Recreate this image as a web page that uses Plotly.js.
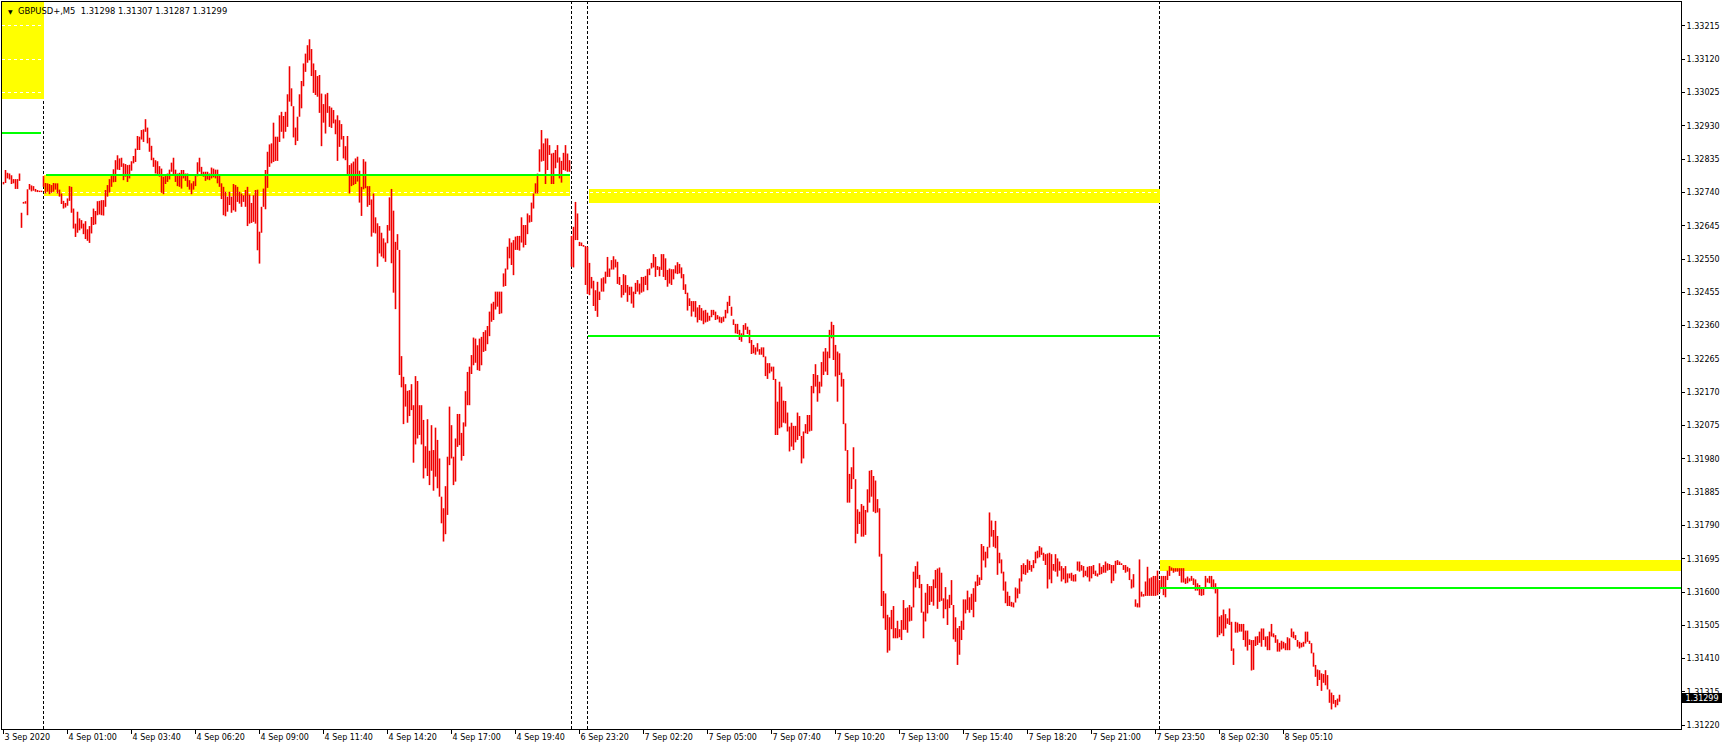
<!DOCTYPE html>
<html>
<head>
<meta charset="utf-8">
<script src="https://cdn.plot.ly/plotly-3.0.1.min.js"></script>
<style>
html,body{margin:0;padding:0;background:#fff;}
#chart{width:1727px;height:750px;}
#chart .shapelayer path, #chart .layer-between path{shape-rendering:crispEdges;}
</style>
</head>
<body>
<div id="chart"></div>
<script>
// ---- data: GBPUSD+ M5 bars (index = bar number), high / low prices ----
const barHigh = [
1.32770,1.32804,1.32796,1.32794,1.32789,1.32778,1.32778,1.32778,1.32794,1.32682,
1.32713,1.32715,1.32749,1.32764,1.32760,1.32758,1.32750,1.32747,1.32745,1.32745,
1.32787,1.32767,1.32766,1.32764,1.32761,1.32767,1.32766,1.32766,1.32748,1.32737,
1.32716,1.32710,1.32723,1.32758,1.32756,1.32694,1.32651,1.32685,1.32666,1.32661,
1.32651,1.32658,1.32635,1.32644,1.32670,1.32694,1.32687,1.32715,1.32716,1.32718,
1.32718,1.32747,1.32761,1.32778,1.32792,1.32806,1.32832,1.32846,1.32837,1.32839,
1.32823,1.32821,1.32818,1.32819,1.32829,1.32844,1.32865,1.32901,1.32899,1.32918,
1.32920,1.32949,1.32925,1.32896,1.32873,1.32839,1.32832,1.32829,1.32815,1.32808,
1.32785,1.32792,1.32794,1.32805,1.32825,1.32839,1.32805,1.32794,1.32796,1.32804,
1.32804,1.32794,1.32794,1.32775,1.32766,1.32772,1.32791,1.32826,1.32839,1.32813,
1.32799,1.32799,1.32799,1.32794,1.32811,1.32808,1.32805,1.32805,1.32789,1.32766,
1.32756,1.32742,1.32728,1.32742,1.32728,1.32764,1.32761,1.32756,1.32742,1.32737,
1.32732,1.32747,1.32756,1.32734,1.32710,1.32732,1.32747,1.32748,1.32628,1.32699,
1.32751,1.32804,1.32856,1.32877,1.32880,1.32939,1.32899,1.32899,1.32960,1.32970,
1.32958,1.32970,1.33020,1.33100,1.33037,1.32986,1.32925,1.32956,1.33020,1.33058,
1.33108,1.33136,1.33160,1.33177,1.33149,1.33108,1.33089,1.33072,1.33075,1.33022,
1.32992,1.33020,1.33024,1.32986,1.32982,1.32975,1.32948,1.32960,1.32946,1.32935,
1.32901,1.32872,1.32901,1.32818,1.32823,1.32828,1.32837,1.32842,1.32802,1.32756,
1.32835,1.32828,1.32758,1.32758,1.32720,1.32737,1.32669,1.32652,1.32644,1.32625,
1.32609,1.32597,1.32647,1.32726,1.32750,1.32688,1.32599,1.32621,1.32576,1.32273,
1.32214,1.32193,1.32174,1.32176,1.32193,1.32133,1.32216,1.32202,1.32133,1.32133,
1.32091,1.32016,1.32093,1.32003,1.32076,1.32005,1.32069,1.32034,1.31981,1.31872,
1.31839,1.31902,1.31986,1.32129,1.32076,1.31986,1.32038,1.32108,1.32108,1.32054,
1.32084,1.32173,1.32228,1.32243,1.32276,1.32326,1.32323,1.32304,1.32323,1.32328,
1.32342,1.32347,1.32359,1.32400,1.32423,1.32428,1.32457,1.32457,1.32457,1.32457,
1.32509,1.32523,1.32585,1.32609,1.32597,1.32604,1.32614,1.32616,1.32616,1.32669,
1.32647,1.32647,1.32680,1.32675,1.32711,1.32737,1.32766,1.32794,1.32863,1.32918,
1.32880,1.32894,1.32894,1.32875,1.32851,1.32853,1.32861,1.32875,1.32840,1.32830,
1.32853,1.32875,1.32851,1.32832,1.32616,1.32642,1.32713,1.32680,1.32599,1.32597,
1.32590,1.32587,1.32585,1.32539,1.32499,1.32488,1.32461,1.32485,1.32457,1.32495,
1.32498,1.32514,1.32556,1.32523,1.32547,1.32558,1.32549,1.32542,1.32499,1.32476,
1.32507,1.32504,1.32476,1.32471,1.32471,1.32457,1.32482,1.32490,1.32480,1.32499,
1.32499,1.32502,1.32521,1.32523,1.32539,1.32564,1.32556,1.32530,1.32528,1.32564,
1.32564,1.32552,1.32519,1.32523,1.32521,1.32521,1.32532,1.32541,1.32536,1.32526,
1.32507,1.32478,1.32454,1.32438,1.32430,1.32430,1.32430,1.32412,1.32419,1.32410,
1.32403,1.32405,1.32397,1.32388,1.32405,1.32405,1.32400,1.32390,1.32386,1.32384,
1.32386,1.32405,1.32428,1.32445,1.32414,1.32378,1.32365,1.32365,1.32348,1.32338,
1.32362,1.32367,1.32357,1.32348,1.32319,1.32305,1.32298,1.32310,1.32293,1.32298,
1.32298,1.32272,1.32253,1.32253,1.32243,1.32243,1.32208,1.32143,1.32200,1.32186,
1.32146,1.32145,1.32112,1.32072,1.32083,1.32074,1.32074,1.32112,1.32102,1.32045,
1.32058,1.32079,1.32105,1.32105,1.32188,1.32222,1.32250,1.32219,1.32200,1.32256,
1.32286,1.32296,1.32286,1.32348,1.32371,1.32362,1.32305,1.32286,1.32281,1.32226,
1.32208,1.32081,1.32005,1.31937,1.31956,1.32013,1.31922,1.31836,1.31829,1.31851,
1.31846,1.31834,1.31893,1.31946,1.31948,1.31931,1.31918,1.31865,1.31839,1.31709,
1.31603,1.31596,1.31535,1.31528,1.31549,1.31560,1.31497,1.31518,1.31494,1.31520,
1.31577,1.31554,1.31556,1.31563,1.31558,1.31658,1.31674,1.31687,1.31649,1.31623,
1.31544,1.31598,1.31623,1.31617,1.31617,1.31636,1.31663,1.31667,1.31670,1.31655,
1.31582,1.31614,1.31579,1.31592,1.31634,1.31563,1.31528,1.31497,1.31503,1.31518,
1.31579,1.31579,1.31604,1.31585,1.31595,1.31611,1.31630,1.31649,1.31642,1.31737,
1.31731,1.31715,1.31729,1.31827,1.31804,1.31777,1.31803,1.31760,1.31712,1.31693,
1.31658,1.31630,1.31601,1.31589,1.31572,1.31570,1.31613,1.31610,1.31639,1.31677,
1.31682,1.31677,1.31693,1.31689,1.31677,1.31691,1.31715,1.31718,1.31731,1.31727,
1.31712,1.31708,1.31710,1.31712,1.31708,1.31680,1.31708,1.31696,1.31687,1.31674,
1.31668,1.31674,1.31653,1.31653,1.31655,1.31649,1.31651,1.31687,1.31687,1.31677,
1.31674,1.31661,1.31672,1.31674,1.31674,1.31677,1.31661,1.31653,1.31682,1.31672,
1.31677,1.31687,1.31682,1.31680,1.31677,1.31677,1.31689,1.31691,1.31687,1.31682,
1.31677,1.31677,1.31672,1.31668,1.31636,1.31651,1.31579,1.31568,1.31693,1.31601,
1.31594,1.31630,1.31672,1.31639,1.31642,1.31646,1.31646,1.31661,1.31634,1.31646,
1.31646,1.31646,1.31661,1.31674,1.31670,1.31668,1.31668,1.31668,1.31668,1.31668,
1.31668,1.31639,1.31644,1.31639,1.31646,1.31639,1.31636,1.31625,1.31620,1.31613,
1.31613,1.31646,1.31639,1.31646,1.31646,1.31636,1.31625,1.31610,1.31530,1.31534,
1.31550,1.31537,1.31525,1.31553,1.31515,1.31439,1.31515,1.31513,1.31509,1.31509,
1.31509,1.31490,1.31490,1.31465,1.31463,1.31463,1.31473,1.31474,1.31487,1.31496,
1.31496,1.31473,1.31474,1.31487,1.31509,1.31482,1.31477,1.31465,1.31455,1.31461,
1.31458,1.31454,1.31471,1.31468,1.31496,1.31487,1.31477,1.31463,1.31458,1.31455,
1.31458,1.31487,1.31487,1.31461,1.31454,1.31427,1.31392,1.31379,1.31377,1.31368,
1.31366,1.31377,1.31363,1.31322,1.31313,1.31306,1.31292,1.31296,1.31307
];
const barLow = [
1.32763,1.32767,1.32780,1.32777,1.32764,1.32766,1.32750,1.32750,1.32773,1.32639,
1.32708,1.32708,1.32675,1.32748,1.32743,1.32745,1.32742,1.32741,1.32741,1.32741,
1.32756,1.32737,1.32742,1.32735,1.32739,1.32742,1.32748,1.32737,1.32728,1.32707,
1.32694,1.32697,1.32702,1.32716,1.32682,1.32637,1.32613,1.32625,1.32632,1.32637,
1.32621,1.32607,1.32602,1.32596,1.32623,1.32647,1.32649,1.32675,1.32677,1.32675,
1.32674,1.32699,1.32728,1.32740,1.32756,1.32769,1.32770,1.32805,1.32804,1.32813,
1.32775,1.32785,1.32770,1.32780,1.32802,1.32823,1.32827,1.32861,1.32861,1.32891,
1.32884,1.32913,1.32880,1.32856,1.32832,1.32813,1.32794,1.32789,1.32785,1.32739,
1.32735,1.32764,1.32770,1.32777,1.32799,1.32792,1.32770,1.32758,1.32756,1.32751,
1.32780,1.32773,1.32756,1.32748,1.32735,1.32748,1.32758,1.32786,1.32799,1.32789,
1.32785,1.32773,1.32777,1.32775,1.32780,1.32783,1.32780,1.32766,1.32756,1.32721,
1.32675,1.32672,1.32685,1.32704,1.32682,1.32689,1.32685,1.32713,1.32708,1.32699,
1.32713,1.32699,1.32644,1.32651,1.32653,1.32656,1.32651,1.32575,1.32537,1.32625,
1.32699,1.32692,1.32753,1.32813,1.32823,1.32827,1.32830,1.32830,1.32884,1.32913,
1.32894,1.32913,1.32927,1.32999,1.32986,1.32897,1.32875,1.32887,1.32956,1.32980,
1.33043,1.33084,1.33110,1.33117,1.33072,1.33024,1.33018,1.33013,1.32967,1.32872,
1.32939,1.32908,1.32967,1.32927,1.32924,1.32937,1.32906,1.32830,1.32870,1.32891,
1.32837,1.32832,1.32790,1.32737,1.32758,1.32761,1.32764,1.32771,1.32711,1.32673,
1.32749,1.32752,1.32699,1.32704,1.32614,1.32625,1.32623,1.32528,1.32566,1.32557,
1.32552,1.32542,1.32595,1.32631,1.32538,1.32454,1.32407,1.32576,1.32219,1.32184,
1.32079,1.32129,1.32083,1.32102,1.32119,1.31969,1.32021,1.32038,1.32048,1.32021,
1.31924,1.31953,1.31931,1.31905,1.31946,1.31889,1.31929,1.31896,1.31872,1.31796,
1.31744,1.31765,1.31820,1.31962,1.31981,1.31905,1.31915,1.32014,1.32019,1.31975,
1.31988,1.32072,1.32133,1.32133,1.32222,1.32247,1.32254,1.32233,1.32231,1.32247,
1.32285,1.32288,1.32307,1.32330,1.32371,1.32376,1.32406,1.32414,1.32393,1.32395,
1.32471,1.32473,1.32520,1.32552,1.32533,1.32504,1.32576,1.32576,1.32574,1.32597,
1.32583,1.32590,1.32621,1.32654,1.32656,1.32694,1.32737,1.32737,1.32799,1.32828,
1.32830,1.32764,1.32804,1.32847,1.32764,1.32764,1.32809,1.32825,1.32780,1.32768,
1.32804,1.32802,1.32799,1.32799,1.32528,1.32526,1.32604,1.32604,1.32587,1.32587,
1.32585,1.32476,1.32450,1.32447,1.32466,1.32416,1.32402,1.32385,1.32433,1.32457,
1.32457,1.32480,1.32499,1.32499,1.32520,1.32520,1.32526,1.32479,1.32476,1.32440,
1.32447,1.32454,1.32428,1.32447,1.32423,1.32411,1.32450,1.32457,1.32449,1.32454,
1.32457,1.32476,1.32461,1.32504,1.32523,1.32526,1.32499,1.32519,1.32501,1.32519,
1.32499,1.32490,1.32471,1.32480,1.32476,1.32492,1.32509,1.32507,1.32509,1.32495,
1.32462,1.32450,1.32403,1.32416,1.32386,1.32400,1.32384,1.32369,1.32376,1.32374,
1.32364,1.32369,1.32371,1.32374,1.32384,1.32390,1.32376,1.32378,1.32369,1.32367,
1.32371,1.32381,1.32395,1.32416,1.32388,1.32362,1.32338,1.32336,1.32319,1.32314,
1.32333,1.32348,1.32336,1.32310,1.32279,1.32281,1.32277,1.32286,1.32277,1.32277,
1.32270,1.32216,1.32208,1.32224,1.32229,1.32205,1.32048,1.32048,1.32067,1.32070,
1.32083,1.32081,1.32058,1.32001,1.32015,1.32005,1.32027,1.32034,1.32045,1.31967,
1.31981,1.32053,1.32051,1.32058,1.32060,1.32167,1.32186,1.32143,1.32167,1.32186,
1.32219,1.32229,1.32219,1.32267,1.32324,1.32262,1.32215,1.32143,1.32219,1.32186,
1.32079,1.32003,1.31855,1.31855,1.31894,1.31922,1.31739,1.31766,1.31794,1.31758,
1.31758,1.31763,1.31827,1.31855,1.31872,1.31829,1.31825,1.31827,1.31701,1.31560,
1.31525,1.31492,1.31427,1.31433,1.31494,1.31468,1.31468,1.31468,1.31471,1.31463,
1.31492,1.31492,1.31484,1.31516,1.31518,1.31556,1.31613,1.31637,1.31611,1.31541,
1.31468,1.31516,1.31539,1.31563,1.31572,1.31561,1.31611,1.31552,1.31572,1.31575,
1.31525,1.31551,1.31506,1.31554,1.31563,1.31465,1.31458,1.31392,1.31421,1.31463,
1.31492,1.31539,1.31549,1.31541,1.31549,1.31528,1.31572,1.31617,1.31620,1.31634,
1.31690,1.31670,1.31696,1.31727,1.31758,1.31729,1.31725,1.31649,1.31682,1.31653,
1.31604,1.31568,1.31560,1.31560,1.31558,1.31556,1.31570,1.31582,1.31595,1.31630,
1.31651,1.31649,1.31655,1.31663,1.31658,1.31668,1.31682,1.31696,1.31699,1.31706,
1.31689,1.31677,1.31610,1.31636,1.31625,1.31661,1.31658,1.31644,1.31661,1.31630,
1.31636,1.31625,1.31627,1.31639,1.31632,1.31630,1.31630,1.31661,1.31658,1.31661,
1.31642,1.31646,1.31642,1.31630,1.31639,1.31651,1.31646,1.31644,1.31649,1.31651,
1.31655,1.31655,1.31661,1.31663,1.31625,1.31632,1.31653,1.31677,1.31677,1.31677,
1.31663,1.31655,1.31658,1.31634,1.31610,1.31613,1.31558,1.31556,1.31556,1.31587,
1.31587,1.31589,1.31589,1.31589,1.31589,1.31589,1.31589,1.31591,1.31598,1.31610,
1.31591,1.31585,1.31634,1.31646,1.31661,1.31655,1.31658,1.31658,1.31646,1.31627,
1.31627,1.31623,1.31625,1.31630,1.31632,1.31620,1.31604,1.31604,1.31591,1.31589,
1.31591,1.31613,1.31627,1.31625,1.31613,1.31608,1.31596,1.31471,1.31477,1.31482,
1.31474,1.31496,1.31509,1.31506,1.31432,1.31392,1.31484,1.31484,1.31487,1.31487,
1.31463,1.31444,1.31433,1.31449,1.31376,1.31378,1.31446,1.31449,1.31455,1.31444,
1.31463,1.31444,1.31434,1.31434,1.31473,1.31471,1.31455,1.31430,1.31430,1.31436,
1.31439,1.31434,1.31434,1.31434,1.31471,1.31468,1.31463,1.31444,1.31439,1.31442,
1.31444,1.31453,1.31458,1.31452,1.31425,1.31387,1.31358,1.31332,1.31349,1.31318,
1.31341,1.31334,1.31322,1.31284,1.31265,1.31281,1.31271,1.31277,1.31287
];

// time axis labels (every 32 bars)
const timeTickIndex = [0,32,64,96,128,160,192,224,256,288,320,352,384,416,448,480,512,544,576,608,640];
const timeTickText = ['3 Sep 2020','4 Sep 01:00','4 Sep 03:40','4 Sep 06:20','4 Sep 09:00','4 Sep 11:40',
  '4 Sep 14:20','4 Sep 17:00','4 Sep 19:40','6 Sep 23:20','7 Sep 02:20','7 Sep 05:00','7 Sep 07:40',
  '7 Sep 10:20','7 Sep 13:00','7 Sep 15:40','7 Sep 18:20','7 Sep 21:00','7 Sep 23:50','8 Sep 02:30','8 Sep 05:10'];

// price axis labels
const priceTicks = [1.31220,1.31315,1.31410,1.31505,1.31600,1.31695,1.31790,1.31885,1.31980,1.32075,1.32170,
  1.32265,1.32360,1.32455,1.32550,1.32645,1.32740,1.32835,1.32930,1.33025,1.33120,1.33215];

// day separators (bar index)
const daySeparators = [20, 284, 292, 578];

// zones: [startBar, endBar, lowPrice, highPrice]  (null = chart edge)
const yellowZones = [
  [null, 20, 1.33007, null],
  [20, 283, 1.32731, 1.32789],
  [292.75, 578, 1.32710, 1.32750],
  [578, null, 1.31660, 1.31691]
];
// green levels: [startBar, endBar, price]
const greenLevels = [
  [null, 18.5, 1.32910],
  [21, 283, 1.32790],
  [292, 578, 1.32330],
  [578, null, 1.31611]
];

const symbolInfo = 'GBPUSD+,M5\u00a0\u00a01.31298 1.31307 1.31287 1.31299';
const lastPrice = 1.31299;

// ---- chart ----
const xRange = [-0.75, 838.75];
const yRange = [1.312092, 1.332833];

const xs = [], ys = [];
barHigh.forEach((h, i) => { xs.push(i, i, null); ys.push(barLow[i], h, null); });

const traces = [{
  type: 'scatter', mode: 'lines', x: xs, y: ys,
  line: {color: '#f00000', width: 1.6}, hoverinfo: 'skip', connectgaps: false
}];

const shapes = [];
yellowZones.forEach(z => {
  shapes.push({type: 'rect', xref: 'x', yref: 'y', layer: 'below',
    x0: z[0] === null ? xRange[0] : z[0], x1: z[1] === null ? xRange[1] : z[1],
    y0: z[2], y1: z[3] === null ? yRange[1] : z[3],
    fillcolor: '#ffff00', line: {width: 0}});
});
daySeparators.forEach(s => {
  shapes.push({type: 'line', xref: 'x', yref: 'paper', layer: 'between',
    x0: s, x1: s, y0: 0, y1: 1, line: {color: '#000000', width: 1, dash: '3px,2px'}});
});
greenLevels.forEach(g => {
  shapes.push({type: 'line', xref: 'x', yref: 'y', layer: 'above',
    x0: g[0] === null ? xRange[0] : g[0], x1: g[1] === null ? xRange[1] : g[1],
    y0: g[2], y1: g[2], line: {color: '#00ff00', width: 2}});
});

const axisFont = {family: 'DejaVu Sans', size: 8, color: '#000000'};

const layout = {
  width: 1727, height: 750,
  margin: {l: 2, r: 46, t: 2, b: 21, pad: 0},
  paper_bgcolor: '#ffffff', plot_bgcolor: '#ffffff',
  showlegend: false,
  xaxis: {
    range: xRange, tickmode: 'array', tickvals: timeTickIndex, ticktext: timeTickText,
    ticks: 'outside', ticklen: 4, tickcolor: '#000000', tickwidth: 1,
    ticklabelposition: 'outside right',
    showgrid: false, zeroline: false, showline: true, mirror: true,
    linecolor: '#000000', linewidth: 1, tickfont: axisFont, fixedrange: true
  },
  yaxis: {
    side: 'right', range: yRange, tickmode: 'array', tickvals: priceTicks,
    ticktext: priceTicks.map(v => v.toFixed(5)),
    ticks: 'outside', ticklen: 3, tickcolor: '#000000', tickwidth: 1,
    showgrid: true, gridcolor: '#ffffff', gridwidth: 1, griddash: '3px,3px',
    zeroline: false, showline: true, mirror: true, linecolor: '#000000', linewidth: 1,
    tickfont: axisFont, fixedrange: true
  },
  shapes: shapes,
  annotations: [
    {xref: 'paper', yref: 'paper', x: 0, y: 1, xanchor: 'left', yanchor: 'middle',
     xshift: 4, yshift: -9, text: '\u25BC', showarrow: false,
     font: {family: 'DejaVu Sans', size: 6, color: '#000000'}},
    {xref: 'paper', yref: 'paper', x: 0, y: 1, xanchor: 'left', yanchor: 'middle',
     xshift: 14, yshift: -9, text: symbolInfo, showarrow: false,
     font: {family: 'DejaVu Sans', size: 8.4, color: '#000000'}},
    {xref: 'paper', yref: 'y', x: 1, y: lastPrice, xanchor: 'left', yanchor: 'middle',
     xshift: 1, text: lastPrice.toFixed(5), showarrow: false,
     bgcolor: '#000000', borderwidth: 0, borderpad: 0, width: 40, height: 10, align: 'center',
     font: {family: 'DejaVu Sans', size: 8, color: '#ffffff'}}
  ]
};

Plotly.newPlot('chart', traces, layout, {displayModeBar: false, staticPlot: true});
</script>
</body>
</html>
